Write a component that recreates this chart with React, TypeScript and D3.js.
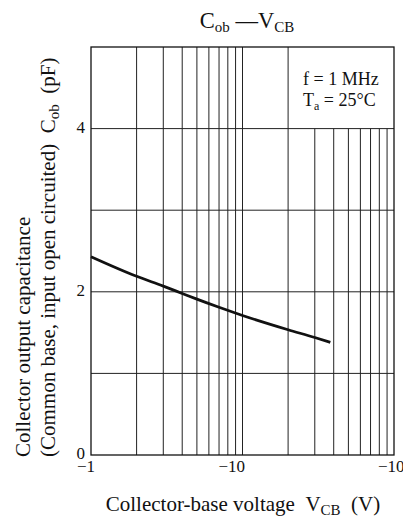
import React from "react";
import * as d3 from "d3";

// Data (V_CB magnitude in volts, C_ob in pF)
const vcbValues = [1, 2, 3, 4, 5, 7, 10, 20, 30, 38];
const cobValues = [2.43, 2.19, 2.07, 1.98, 1.91, 1.81, 1.71, 1.535, 1.44, 1.38];
const yTickValues = [0, 2, 4];
const yGridValues = [1, 2, 3, 4];
const xTickValues = [1, 10, 100];
const xTickLabels = ["\u22121", "\u221210", "\u221210"];
const xMinorValues = [2, 3, 4, 5, 6, 7, 8, 9, 10, 20, 30, 40, 50, 60, 70, 80, 90];

const W = 403;
const H = 526;
const L = 91, R = 394, T = 47, B = 455;
const FONT = "'Liberation Serif', 'Times New Roman', serif";

export default function App() {
  const x = d3.scaleLog().domain([1, 100]).range([L, R]);
  const y = d3.scaleLinear().domain([0, 5]).range([B, T]);
  const line = d3
    .line<number>()
    .x((_, i) => x(vcbValues[i]))
    .y((d) => y(d))
    .curve(d3.curveMonotoneX);
  const legendBottom = y(4);
  const xLabelStart = [-14, -24, -16];

  return (
    <svg
      width={W}
      height={H}
      style={{ position: "absolute", left: 0, top: 0, background: "#fff" }}
      fontFamily={FONT}
    >
      {/* vertical grid */}
      {xMinorValues.map((v) => (
        <line
          key={"v" + v}
          x1={x(v)}
          x2={x(v)}
          y1={v > 20 ? legendBottom : T}
          y2={B}
          stroke="#222"
          strokeWidth={1}
        />
      ))}
      {/* horizontal grid */}
      {yGridValues.map((v) => (
        <line key={"h" + v} x1={L} x2={R} y1={y(v)} y2={y(v)} stroke="#222" strokeWidth={1} />
      ))}
      {/* frame */}
      <rect x={L} y={T} width={R - L} height={B - T} fill="none" stroke="#111" strokeWidth={1.3} />
      {/* curve */}
      <path d={line(cobValues) || ""} fill="none" stroke="#111" strokeWidth={2.8} />

      {/* y tick labels */}
      {yTickValues.map((v) => (
        <text key={"yt" + v} x={L - 6} y={y(v) + 4} textAnchor="end" fontSize={17} fill="#111">
          {v}
        </text>
      ))}
      {/* x tick labels */}
      {xTickValues.map((v, i) => (
        <text key={"xt" + v} x={x(v) + xLabelStart[i]} y={472} textAnchor="start" fontSize={17} fill="#111">
          {xTickLabels[i]}
          {i === 2 ? (
            <tspan dy={-7} fontSize={11}>
              2
            </tspan>
          ) : null}
        </text>
      ))}

      {/* title */}
      <text x={247} y={28} textAnchor="middle" fontSize={22.5} fill="#111">
        C<tspan dy={4} fontSize={15}>ob</tspan>
        <tspan dy={-4}> {"\u2014"}</tspan>V<tspan dy={4} fontSize={15}>CB</tspan>
      </text>

      {/* legend */}
      <text x={303} y={85} fontSize={18} fill="#111">
        f = 1 MHz
      </text>
      <text x={303} y={106} fontSize={18} fill="#111">
        T<tspan dy={4} fontSize={12}>a</tspan>
        <tspan dy={-4}> = 25°C</tspan>
      </text>

      {/* x axis label */}
      <text x={243} y={511} textAnchor="middle" fontSize={21} fill="#111">
        Collector-base voltage{"\u2002"}V<tspan dy={4} fontSize={15}>CB</tspan>
        <tspan dy={-4}>{"\u2002"}(V)</tspan>
      </text>

      {/* y axis label */}
      <g transform="translate(30,457) rotate(-90)">
        <text x={0} y={0} textAnchor="start" fontSize={21} fill="#111">
          Collector output capacitance
        </text>
        <text x={0} y={25} textAnchor="start" fontSize={21} fill="#111">
          (Common base, input open circuited){"\u2002"}C<tspan dy={4} fontSize={15}>ob</tspan>
          <tspan dy={-4}>{"\u2002"}(pF)</tspan>
        </text>
      </g>
    </svg>
  );
}
